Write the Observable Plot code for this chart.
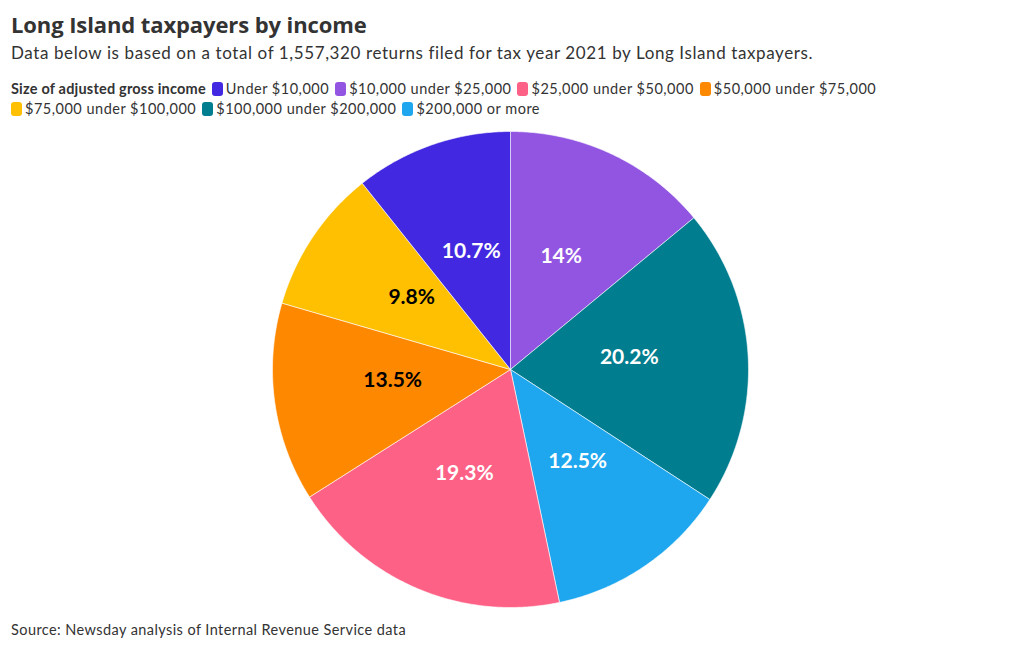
<!DOCTYPE html>
<html>
<head>
<meta charset="utf-8">
<script src="https://cdn.jsdelivr.net/npm/d3@7"></script>
<script src="https://cdn.jsdelivr.net/npm/@observablehq/plot@0.6"></script>
<style>
  html, body { margin: 0; padding: 0; background: #fff; }
  body { width: 1020px; height: 650px; position: relative; font-family: "Lato", "Noto Sans", sans-serif; color: #333; }
  #title { position: absolute; left: 11px; top: 9px; font-family: "Open Sans", sans-serif; font-weight: 700; font-size: 22px; color: #333; letter-spacing: -0.1px; }
  #subtitle { position: absolute; left: 11px; top: 42px; font-size: 17px; color: #333; letter-spacing: 0.6px; }
  #legend { position: absolute; left: 11px; top: 79px; width: 1000px; font-size: 14.5px; line-height: 19.5px; color: #333; letter-spacing: 0.5px; }
  #legend .ttl { font-weight: 700; margin-right: 6px; letter-spacing: 0.2px; }
  #legend .item { display: inline-block; margin-right: 6px; white-space: nowrap; }
  #legend .sw { display: inline-block; width: 11px; height: 14px; border-radius: 3px; vertical-align: -2px; margin-right: 3px; }
  #chart { position: absolute; left: 0; top: 120px; }
  #caption { position: absolute; left: 11px; top: 621px; font-size: 14.5px; color: #333; letter-spacing: 0.42px; }
</style>
</head>
<body>
<div id="title">Long Island taxpayers by income</div>
<div id="subtitle">Data below is based on a total of 1,557,320 returns filed for tax year 2021 by Long Island taxpayers.</div>
<div id="legend"></div>
<div id="chart"></div>
<div id="caption">Source: Newsday analysis of Internal Revenue Service data</div>
<script>
// Legend order (categories) and colours
const categories = ["Under $10,000", "$10,000 under $25,000", "$25,000 under $50,000", "$50,000 under $75,000", "$75,000 under $100,000", "$100,000 under $200,000", "$200,000 or more"];
const colors = ["#4229e1", "#9155e2", "#fe6186", "#fe8800", "#fec000", "#007d8f", "#1ea7ee"];

// Slices, clockwise from 12 o'clock
const sliceCategories = ["$10,000 under $25,000", "$100,000 under $200,000", "$200,000 or more", "$25,000 under $50,000", "$50,000 under $75,000", "$75,000 under $100,000", "Under $10,000"];
const sliceValues = [14, 20.2, 12.5, 19.3, 13.5, 9.8, 10.7];
const sliceLabels = ["14%", "20.2%", "12.5%", "19.3%", "13.5%", "9.8%", "10.7%"];

const legendTitle = "Size of adjusted gross income";
const darkText = new Set(["$50,000 under $75,000", "$75,000 under $100,000"]);

// Legend
const leg = document.getElementById("legend");
leg.innerHTML = `<span class="ttl">${legendTitle}</span>` + categories.map((c, i) =>
  `<span class="item"><span class="sw" style="background:${colors[i]}"></span>${c}</span>`).join("");

// Pie geometry from d3.pie
const pie = d3.pie().sort(null).value(d => d.value);
const arcs = pie(sliceCategories.map((c, i) => ({category: c, value: sliceValues[i], label: sliceLabels[i]})));

const pts = [];
for (const a of arcs) {
  const c = a.data.category;
  pts.push({category: c, x: 0, y: 0});
  const n = Math.max(2, Math.ceil((a.endAngle - a.startAngle) / (Math.PI / 360)));
  for (let k = 0; k <= n; k++) {
    const t = a.startAngle + (a.endAngle - a.startAngle) * k / n;
    pts.push({category: c, x: Math.sin(t), y: Math.cos(t)});
  }
  pts.push({category: c, x: 0, y: 0});
}
const labels = arcs.map(a => {
  const m = (a.startAngle + a.endAngle) / 2;
  return {category: a.data.category, label: a.data.label, x: 0.5 * Math.sin(m), y: 0.5 * Math.cos(m)};
});

const chart = Plot.plot({
  width: 1020,
  height: 500,
  marginLeft: 272,
  marginRight: 272,
  marginTop: 11,
  marginBottom: 13,
  x: {domain: [-1, 1], axis: null},
  y: {domain: [-1, 1], axis: null},
  color: {domain: categories, range: colors},
  style: {fontFamily: "Lato, 'Noto Sans', sans-serif", background: "transparent"},
  marks: [
    Plot.line(pts, {x: "x", y: "y", z: "category", fill: "category", stroke: "white", strokeWidth: 0.6, curve: "linear"}),
    Plot.text(labels.filter(d => !darkText.has(d.category)), {x: "x", y: "y", dy: -6, text: "label", fill: "white", fontSize: 21, fontWeight: 700}),
    Plot.text(labels.filter(d => darkText.has(d.category)), {x: "x", y: "y", dy: -6, text: "label", fill: "black", fontSize: 21, fontWeight: 700})
  ]
});
document.getElementById("chart").appendChild(chart);
</script>
</body>
</html>
